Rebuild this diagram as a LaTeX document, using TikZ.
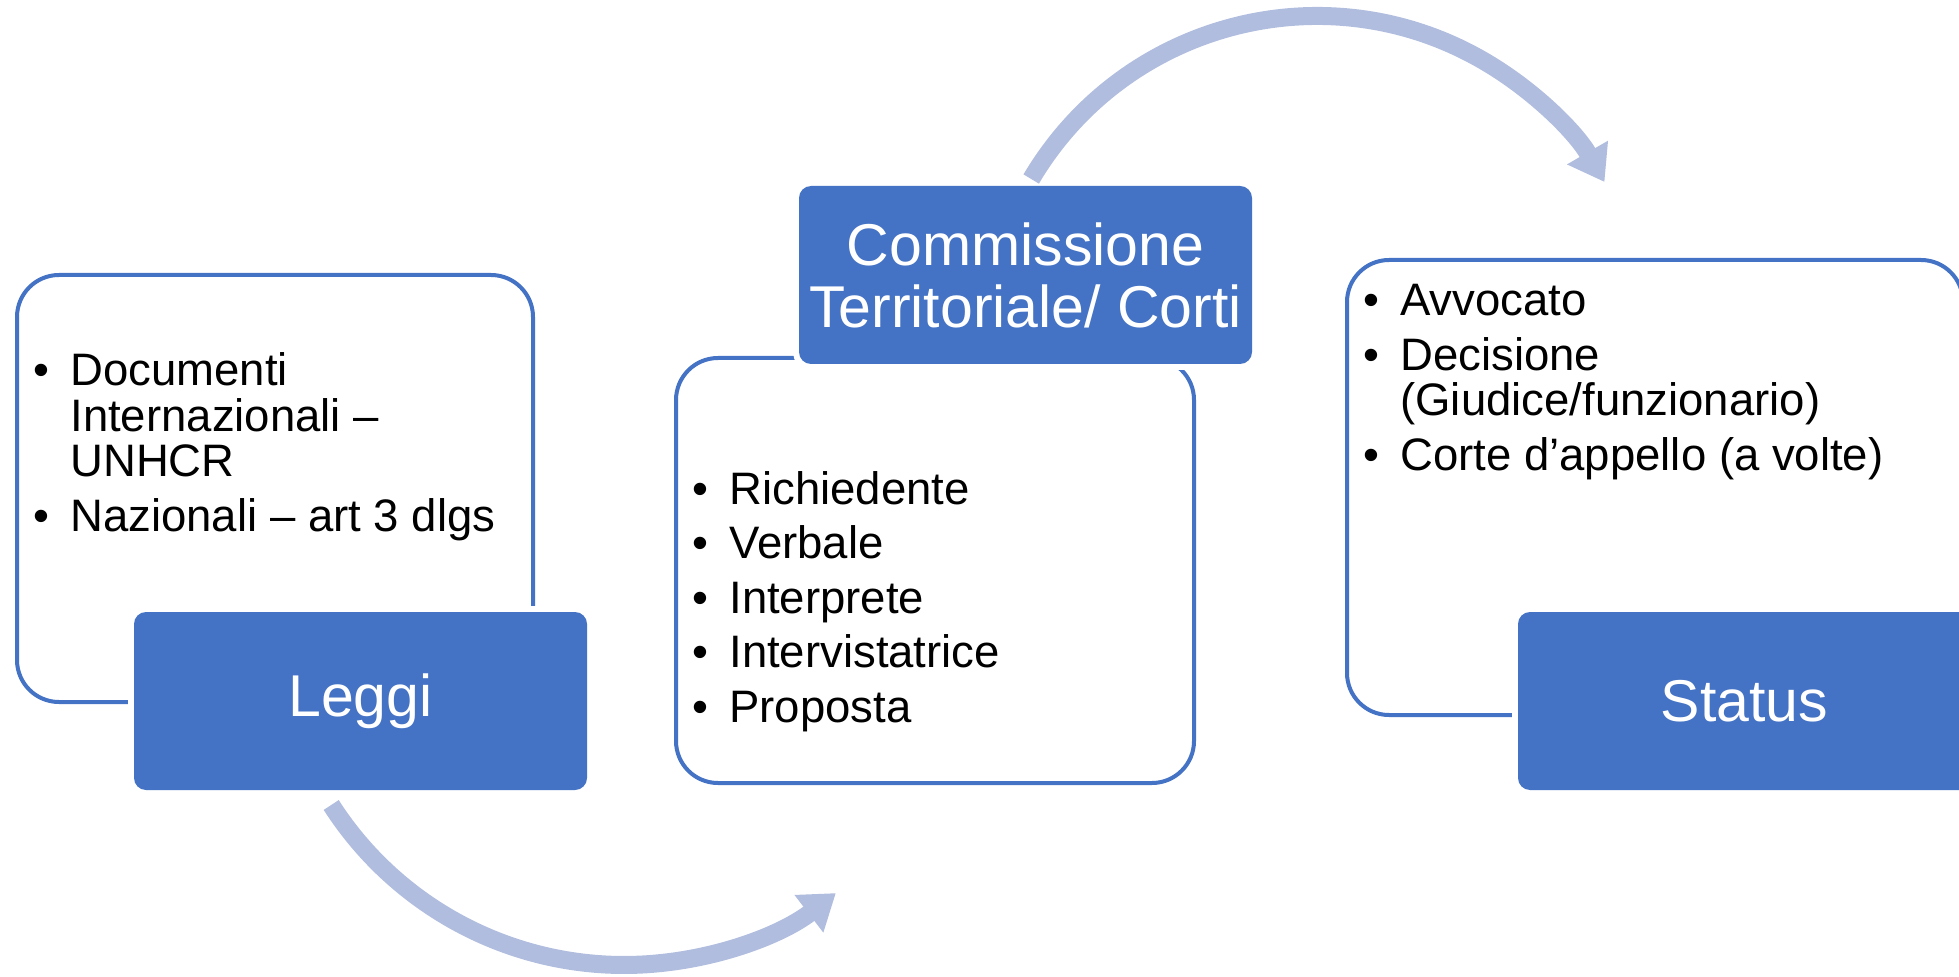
\documentclass[tikz,border=0pt]{standalone}
\usepackage{fontspec}
\setmainfont{Liberation Sans}
\usetikzlibrary{arrows.meta}
\definecolor{main}{HTML}{4472C4}
\definecolor{arr}{RGB}{176,189,222}
\newlength\pxu
\setlength\pxu{0.5pt}
\newcommand\bul[1]{\par\hangindent=37\pxu\hangafter=1\noindent\makebox[37\pxu][l]{•}#1}
\newcommand\blist[1]{\parbox[t]{540\pxu}{\setlength\parskip{4.5pt}#1}}
\tikzset{
  wbox/.style={draw=main, line width=2pt, fill=white, rounded corners=21pt, inner sep=0},
  bbox/.style={fill=main, rounded corners=6pt, text=white, inner sep=0, align=center,
    minimum width=226.5pt, minimum height=89pt, preaction={draw=white, line width=6pt},
    font=\fontsize{29.5pt}{31pt}\selectfont},
  txt/.style={anchor=base west, inner sep=0, font=\fontsize{22.75pt}{22.75pt}\selectfont},
  flow/.style={draw=arr, line width=9pt, -{Triangle[length=17pt, width=22.5pt]}}
}
\begin{document}
\begin{tikzpicture}[x=0.5pt, y=0.5pt]
\useasboundingbox (0,0) rectangle (1959,976);
\clip (0,0) rectangle (1959,976);
% white content boxes
\node[wbox, minimum width=258pt, minimum height=213.5pt] (lbox) at (275,487.5) {};
\node[wbox, minimum width=259pt, minimum height=212.5pt] (mbox) at (935,405.5) {};
\node[wbox, minimum width=308pt, minimum height=227.5pt] (rbox) at (1655,488.5) {};
% blue title boxes
\node[bbox] (leggi) at (360.5,275) {Leggi};
\node[bbox] (comm) at (1025.5,701) {Commissione\\Territoriale/ Corti};
\node[bbox] (status) at (1744.5,275) {Status};
% bullet texts
\node[txt] (ltxt) at (33,590) {\blist{\bul{Documenti\newline Internazionali –\newline UNHCR}\bul{Nazionali – art 3 dlgs}}};
\node[txt] (mtxt) at (692,472) {\blist{\bul{Richiedente}\bul{Verbale}\bul{Interprete}\bul{Intervistatrice}\bul{Proposta}}};
\node[txt] (rtxt) at (1363,660) {\blist{\bul{Avvocato}\bul{Decisione\newline (Giudice/funzionario)}\bul{Corte d’appello (a volte)}}};
% arrows
\coordinate (b0) at (331.2,171);
\coordinate (t0) at (1031.2,797);
\draw[flow] (b0) arc[start angle=212.7, end angle=307.5, radius=348];
\draw[flow] (t0) arc[start angle=149.4, end angle=30, radius=332];
\end{tikzpicture}
\end{document}
